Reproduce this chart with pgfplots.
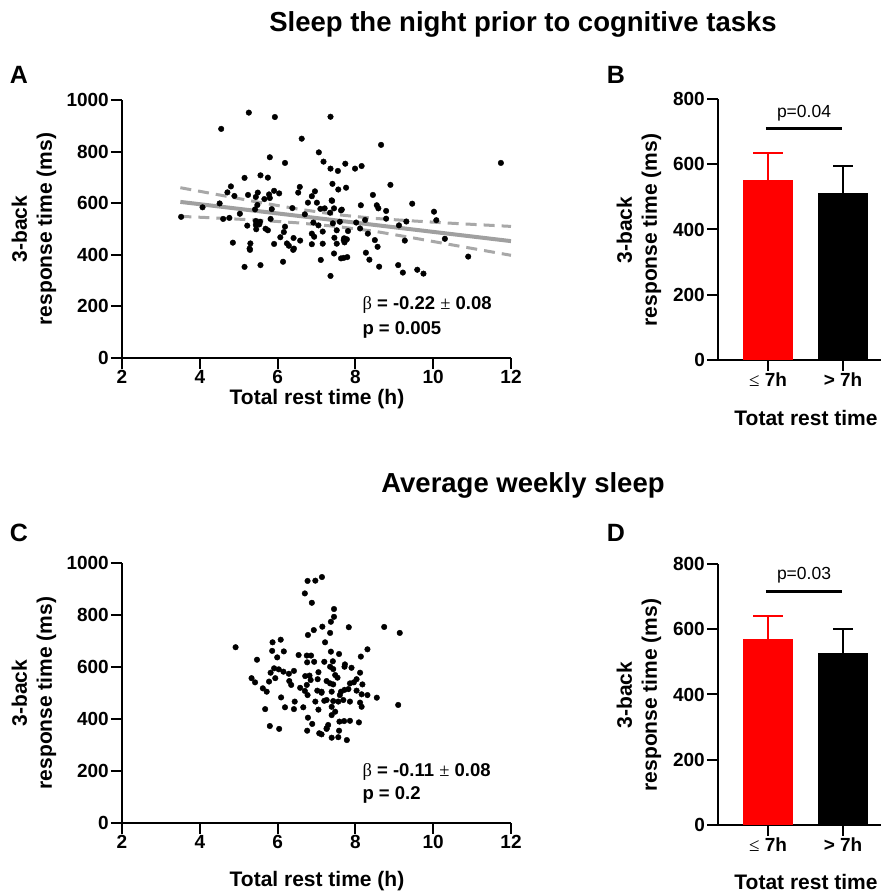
\documentclass[border=0pt]{standalone}
\usepackage{fontspec}
\setmainfont{Liberation Sans}
\newfontfamily\symfont{Liberation Serif}
\usepackage{pgfplots}
\pgfplotsset{compat=1.18}
\definecolor{regl}{HTML}{A0A0A0}
\definecolor{cil}{HTML}{A8A8A8}
\pgfplotsset{
  gp/.style={
    scale only axis,
    axis x line*=bottom, axis y line*=left,
    axis line style={line width=2.2bp, black, -},
    tick style={line width=2bp, black},
    tick align=outside,
    major tick length=11bp,
    ticklabel style={font=\bfseries\fontsize{19bp}{21bp}\selectfont},
    xticklabel style={inner sep=1.5bp},
    yticklabel style={inner sep=2bp},
    /pgf/number format/assume math mode=true,
    /pgf/number format/1000 sep={},
    clip=false,
  },
  scat/.style={gp, width=389bp, height=258bp, xmin=2, xmax=12, ymin=0, ymax=1000,
    xtick={2,4,...,12}, ytick={0,200,...,1000}},
  barax/.style={gp, width=162.5bp, height=261bp, xmin=-0.667, xmax=1.5, ymin=0, ymax=800,
    xtick={0,1}, xticklabels={{\mdseries\symfont ≤}~7h, {>}~7h}, ytick={0,200,...,800}},
}
\tikzset{
  lab/.style={font=\bfseries\fontsize{21bp}{25bp}\selectfont, align=center, inner sep=0.5bp},
  ttl/.style={font=\bfseries\fontsize{27.5bp}{30bp}\selectfont},
  pl/.style={font=\bfseries\fontsize{25bp}{25bp}\selectfont},
  st/.style={font=\bfseries\fontsize{18.5bp}{22bp}\selectfont, anchor=west},
}
\begin{document}
\begin{tikzpicture}[x=1bp,y=1bp]
\path[use as bounding box] (0,0) rectangle (883,893);

% ---------- Panel A ----------
\begin{axis}[scat, at={(122bp,535bp)}, anchor=south west]
\addplot[only marks, mark=*, mark size=2.8bp, black] coordinates {
(5.26,951)(5.93,934)(7.36,935)(4.55,888)(6.62,850)(5.80,778)(6.19,756)(7.06,797)(7.18,761)(7.36,734)
(7.55,725)(7.74,753)(5.15,698)(5.56,708)(5.75,699)(7.41,675)(4.80,665)(4.71,642)(4.89,628)(5.24,632)
(5.49,641)(5.44,624)(5.78,634)(5.80,620)(5.91,648)(6.04,638)(5.66,616)(6.57,663)(6.53,641)(6.96,646)
(6.88,627)(6.78,602)(7.01,602)(7.40,609)(7.56,653)(4.51,599)(5.48,593)(5.42,576)(5.85,577)(6.38,581)
(7.21,580)(7.35,563)(7.63,572)(5.03,559)(6.70,557)(3.52,547)(4.07,584)(4.76,543)(5.82,539)(5.44,531)
(5.55,528)(5.44,516)(5.22,513)(5.53,518)(6.19,509)(6.16,488)(5.45,499)(5.69,501)(5.75,495)(6.92,525)
(7.05,514)(7.16,490)(6.88,482)(6.94,470)(7.42,522)(7.52,495)(7.71,464)(6.07,468)(6.24,444)(6.41,465)
(6.58,455)(6.29,435)(6.42,424)(5.91,442)(6.88,441)(7.16,443)(7.46,466)(7.52,443)(4.85,447)(5.30,444)
(5.28,424)(7.45,405)(7.63,386)(7.11,380)(6.14,373)(5.15,353)(5.56,360)(7.36,318)(4.60,539)
(8.66,826)(11.74,756)(7.99,734)(8.16,744)(8.90,671)(7.76,660)(8.45,632)(9.46,598)(8.14,592)(8.55,592)
(8.59,580)(8.79,570)(7.65,575)(10.02,567)(10.08,534)(8.25,535)(8.79,540)(9.12,514)(9.31,529)(7.81,492)
(8.32,482)(8.50,457)(9.27,455)(10.30,462)(7.70,457)(7.72,448)(7.78,460)(8.57,431)(8.27,408)(8.36,381)
(8.61,354)(9.10,360)(9.22,331)(9.59,342)(9.75,327)(10.90,393)(7.70,388)(7.79,391)(7.60,528)(7.39,611)
(7.10,578)(7.45,580)(8.12,502)(8.02,525)(5.29,419)(6.40,419)
};
\addplot[cil, line width=3bp, dash pattern=on 11bp off 7bp] coordinates {
(3.5,660)(4.5,632)(5.5,604)(6.5,578)(7.5,556)(8.5,541)(9.5,531)(10.5,522)(12,510)};
\addplot[cil, line width=3bp, dash pattern=on 11bp off 7bp] coordinates {
(3.5,549)(4.5,542)(5.5,534)(6.5,524)(7.5,510)(8.5,491)(9.5,465)(10.5,438)(12,398)};
\addplot[regl, line width=4bp] coordinates {(3.5,605)(12,453)};
\end{axis}

% ---------- Panel B ----------
\begin{axis}[barax, at={(718bp,533bp)}, anchor=south west]
\addplot[ybar, bar width=50bp, bar shift=0pt, fill=red, draw=none,
  error bars/.cd, y dir=plus, y explicit,
  error bar style={line width=2bp, red},
  error mark options={rotate=90, mark size=15bp, line width=2bp, red}]
  coordinates {(0,551) +- (0,84)};
\addplot[ybar, bar width=50bp, bar shift=0pt, fill=black, draw=none,
  error bars/.cd, y dir=plus, y explicit,
  error bar style={line width=2bp, black},
  error mark options={rotate=90, mark size=10bp, line width=2bp, black}]
  coordinates {(1,511) +- (0,83)};
\addplot[black, line width=3bp] coordinates {(-0.03,709)(0.99,709)};
\end{axis}

% ---------- Panel C ----------
\begin{axis}[scat, at={(122bp,70bp)}, anchor=south west, height=260bp]
\addplot[only marks, mark=*, mark size=2.8bp, black] coordinates {
(4.92,676)(6.77,931)(6.97,932)(7.14,946)(6.70,883)(6.88,847)(7.15,755)(6.93,742)(6.78,723)(5.87,695)
(6.08,705)(5.86,662)(6.16,660)(5.47,628)(5.99,637)(6.54,646)(6.75,644)(6.86,644)(7.22,695)(6.76,618)
(6.94,620)(7.20,620)(5.91,595)(6.03,591)(6.15,582)(5.82,578)(6.29,574)(6.42,585)(6.71,565)(6.82,567)
(7.05,580)(7.03,553)(6.85,550)(5.33,557)(5.42,541)(5.78,544)(5.94,557)(6.30,546)(6.35,531)(5.62,518)
(5.72,505)(6.58,520)(6.70,508)(6.77,492)(7.02,509)(7.13,501)(6.75,531)(6.09,483)(6.44,467)(6.42,438)
(5.68,438)(6.19,445)(6.66,445)(6.97,467)(7.05,436)(6.78,405)(6.89,381)(5.80,373)(6.04,362)(6.76,355)
(7.07,345)(7.20,470)(7.26,364)
(7.45,823)(7.45,793)(7.37,774)(7.83,753)(8.74,754)(9.14,731)(7.35,731)(8.31,668)(8.14,640)(7.37,659)
(7.58,650)(7.42,622)(7.73,610)(7.72,601)(7.90,597)(7.35,601)(7.43,592)(8.12,578)(7.48,569)(7.54,559)
(7.26,546)(7.35,537)(7.43,533)(8.03,553)(7.96,541)(7.86,537)(8.18,533)(7.82,515)(7.72,512)(7.63,505)
(7.60,492)(8.03,509)(8.16,495)(8.31,492)(8.55,482)(7.39,505)(7.13,505)(7.26,473)(7.43,469)(7.56,467)
(7.69,473)(7.86,467)(8.12,463)(8.16,447)(9.10,454)(7.39,447)(7.48,428)(7.39,415)(7.59,390)(7.71,392)
(7.86,393)(8.09,387)(7.30,377)(7.26,362)(7.58,355)(7.39,328)(7.56,330)(7.78,319)(7.13,341)
};
\end{axis}

% ---------- Panel D ----------
\begin{axis}[barax, at={(718bp,68bp)}, anchor=south west]
\addplot[ybar, bar width=50bp, bar shift=0pt, fill=red, draw=none,
  error bars/.cd, y dir=plus, y explicit,
  error bar style={line width=2bp, red},
  error mark options={rotate=90, mark size=15bp, line width=2bp, red}]
  coordinates {(0,570) +- (0,70)};
\addplot[ybar, bar width=50bp, bar shift=0pt, fill=black, draw=none,
  error bars/.cd, y dir=plus, y explicit,
  error bar style={line width=2bp, black},
  error mark options={rotate=90, mark size=10bp, line width=2bp, black}]
  coordinates {(1,528) +- (0,72)};
\addplot[black, line width=3bp] coordinates {(-0.03,717)(0.99,717)};
\end{axis}

% ---------- Text ----------
\node[ttl] at (523,869) {Sleep the night prior to cognitive tasks};
\node[ttl] at (523,408) {Average weekly sleep};
\node[pl] at (19,818) {A};
\node[pl] at (616,818) {B};
\node[pl] at (19,360) {C};
\node[pl] at (616,360) {D};

\node[lab] at (317,494) {Total rest time (h)};
\node[lab, rotate=90] at (34,664) {3-back\\response time (ms)};
\node[lab, rotate=90] at (639,663) {3-back\\response time (ms)};
\node[lab] at (806,475) {Totat rest time};

\node[lab] at (317,12) {Total rest time (h)};
\node[lab, rotate=90] at (34,200) {3-back\\response time (ms)};
\node[lab, rotate=90] at (639,198) {3-back\\response time (ms)};
\node[lab] at (806,11) {Totat rest time};

\node[st] at (359,588) {{\mdseries\symfont β} = -0.22 {\mdseries\symfont ±} 0.08};
\node[st] at (359,563) {p = 0.005};
\node[st] at (359,121) {{\mdseries\symfont β} = -0.11 {\mdseries\symfont ±} 0.08};
\node[st] at (359,98) {p = 0.2};

\node[font=\fontsize{17.5bp}{20bp}\selectfont] at (804,780) {p=0.04};
\node[font=\fontsize{17.5bp}{20bp}\selectfont] at (804,318) {p=0.03};
\end{tikzpicture}
\end{document}
